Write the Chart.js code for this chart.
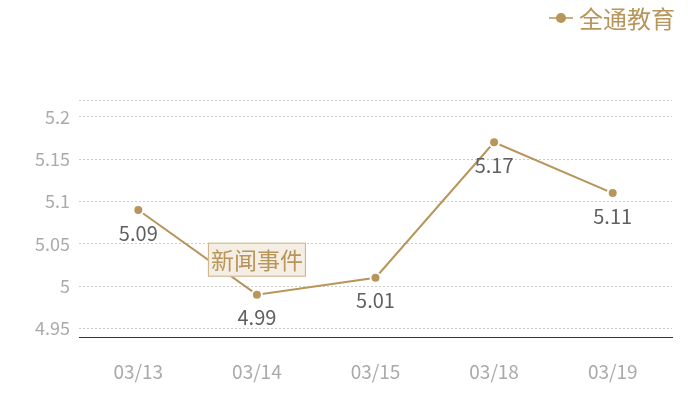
<!DOCTYPE html>
<html>
<head>
<meta charset="utf-8">
<script src="https://cdn.jsdelivr.net/npm/chart.js@4.4.1/dist/chart.umd.min.js"></script>
<style>
  html, body { margin: 0; padding: 0; background: #fff; }
  #wrap { width: 700px; height: 400px; }
</style>
</head>
<body>
<div id="wrap"><canvas id="line-chart" width="700" height="400"></canvas></div>
<script>
const categories = ['03/13', '03/14', '03/15', '03/18', '03/19'];
const values = [5.09, 4.99, 5.01, 5.17, 5.11];
const yTicks = [4.95, 5.0, 5.05, 5.1, 5.15, 5.2];
const seriesName = '全通教育';
const eventName = '新闻事件';
const eventCategory = '03/14';

const gold = '#b8955a';
const font = '"Noto Sans CJK SC", "Noto Sans", sans-serif';

// value labels under each point
const valueLabels = {
    id: 'valueLabels',
    afterDatasetsDraw(chart) {
        const ctx = chart.ctx;
        const meta = chart.getDatasetMeta(0);
        ctx.save();
        ctx.font = '20px ' + font;
        ctx.fillStyle = '#606060';
        ctx.textAlign = 'center';
        ctx.textBaseline = 'middle';
        meta.data.forEach((pt, i) => {
            ctx.fillText(String(values[i]), pt.x, pt.y + 23);
        });
        ctx.restore();
    }
};

// event tag box + custom legend
const extras = {
    id: 'extras',
    afterDatasetsDraw(chart) {
        const ctx = chart.ctx;
        const meta = chart.getDatasetMeta(0);
        const idx = categories.indexOf(eventCategory);
        const pt = meta.data[idx];
        ctx.save();
        ctx.font = '23px ' + font;
        const w = ctx.measureText(eventName).width + 6;
        const h = 34;
        const cx = pt.x, cy = pt.y - 35;
        ctx.fillStyle = '#f4eee5';
        ctx.fillRect(cx - w / 2, cy - h / 2, w, h);
        ctx.strokeStyle = '#cdb187';
        ctx.lineWidth = 1;
        ctx.strokeRect(cx - w / 2 + 0.5, cy - h / 2 + 0.5, w - 1, h - 1);
        ctx.fillStyle = gold;
        ctx.textAlign = 'center';
        ctx.textBaseline = 'middle';
        ctx.fillText(eventName, cx, cy + 1);

        // legend
        const lx = 561, ly = 18;
        ctx.strokeStyle = gold;
        ctx.lineWidth = 1.5;
        ctx.beginPath();
        ctx.moveTo(lx - 12, ly);
        ctx.lineTo(lx + 12, ly);
        ctx.stroke();
        ctx.fillStyle = gold;
        ctx.beginPath();
        ctx.arc(lx, ly, 5, 0, Math.PI * 2);
        ctx.fill();
        ctx.font = '24px ' + font;
        ctx.textAlign = 'left';
        ctx.fillText(seriesName, 579, ly + 1);
        ctx.restore();
    }
};

const ctx = document.getElementById('line-chart').getContext('2d');
const lineChart = new Chart(ctx, {
    type: 'line',
    data: {
        labels: categories,
        datasets: [{
            label: seriesName,
            data: values,
            borderColor: gold,
            backgroundColor: gold,
            borderWidth: 2,
            pointRadius: 5,
            pointBorderWidth: 2,
            pointBorderColor: '#fff',
            pointBackgroundColor: gold,
            tension: 0
        }]
    },
    options: {
        responsive: false,
        animation: false,
        devicePixelRatio: 1,
        layout: { padding: { top: 100, right: 28, left: 0, bottom: 0 } },
        scales: {
            x: {
                offset: true,
                grid: { display: false, drawTicks: false },
                border: { display: true, color: '#333', width: 1 },
                ticks: {
                    color: '#aaa',
                    font: { size: 19, family: font },
                    padding: 23,
                    maxRotation: 0
                },
                afterFit(scale) { scale.height = 63; }
            },
            y: {
                min: 4.94,
                max: 5.22,
                afterBuildTicks(scale) {
                    scale.ticks = yTicks.concat([5.22]).map(v => ({ value: v }));
                },
                grid: {
                    color: '#ccc',
                    drawTicks: false,
                    lineWidth: 1
                },
                border: { display: false, dash: [2, 2] },
                ticks: {
                    color: '#aaa',
                    font: { size: 18, family: font },
                    padding: 9,
                    callback(v) {
                        return yTicks.includes(v) ? String(parseFloat(v.toFixed(2))) : '';
                    }
                },
                afterFit(scale) { scale.width = 79; }
            }
        },
        plugins: {
            legend: { display: false },
            tooltip: { enabled: false }
        }
    },
    plugins: [valueLabels, extras]
});
</script>
</body>
</html>
